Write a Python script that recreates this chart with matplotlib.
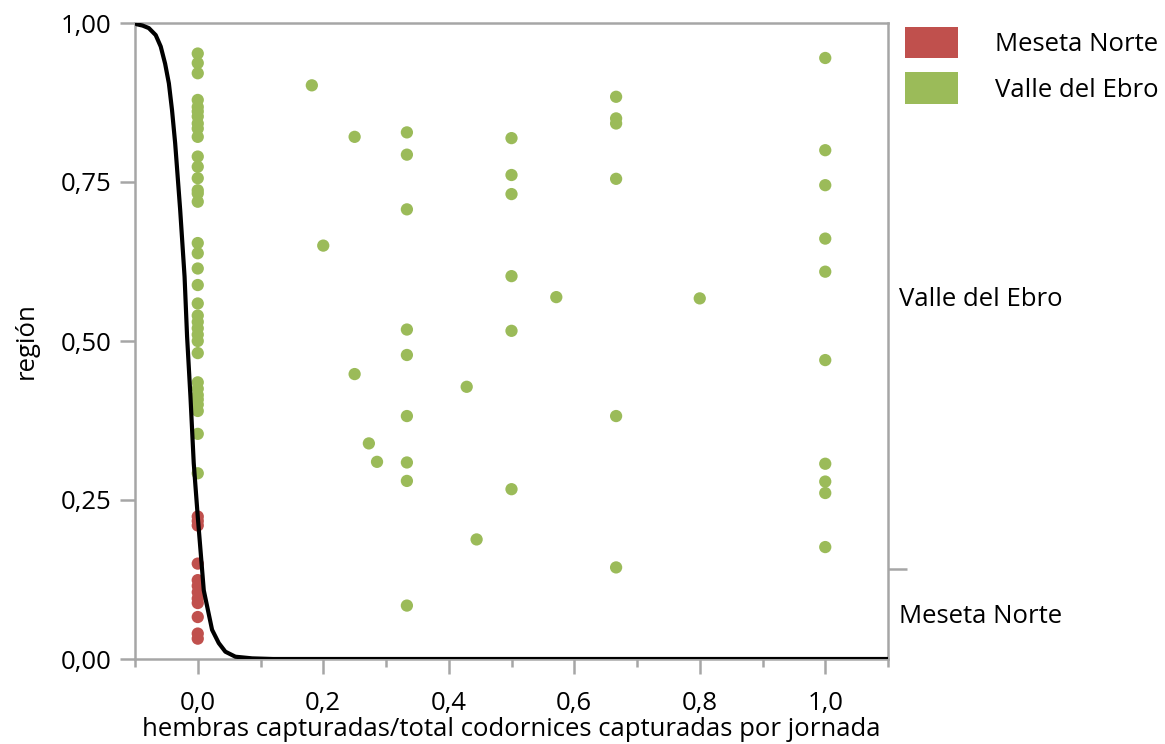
import matplotlib.pyplot as plt
from matplotlib.patches import Patch
from matplotlib.ticker import MultipleLocator, FuncFormatter

plt.rcParams['font.family'] = ['Open Sans', 'DejaVu Sans']

# proporción de hembras por jornada (x) y posición vertical en el gráfico (y)
meseta_x = [0.0] * 12
meseta_y = [0.224, 0.217, 0.210, 0.150, 0.124, 0.115, 0.105, 0.095,
            0.088, 0.066, 0.040, 0.032]

valle_x0_y = [0.952, 0.937, 0.921, 0.879, 0.868, 0.861, 0.853, 0.842,
              0.834, 0.821, 0.790, 0.774, 0.756, 0.737, 0.732, 0.719,
              0.654, 0.638, 0.614, 0.588, 0.559, 0.540, 0.530, 0.520,
              0.510, 0.500, 0.481, 0.435, 0.425, 0.415, 0.408, 0.400,
              0.390, 0.354, 0.292]
valle_x = [0.0] * len(valle_x0_y) + [
    0.1818, 0.25, 0.3333, 0.3333, 0.5, 0.5, 0.5, 0.3333, 0.2, 0.5,
    0.5714, 0.3333, 0.5, 0.3333, 0.25, 0.4286, 0.3333, 0.2727, 0.2857,
    0.3333, 0.3333, 0.5, 0.4444, 0.3333,
    1.0, 0.6667, 0.6667, 0.6667, 1.0, 1.0, 0.6667, 1.0, 1.0, 0.8,
    1.0, 0.6667, 1.0, 1.0, 1.0, 1.0, 0.6667]
valle_y = valle_x0_y + [
    0.902, 0.821, 0.828, 0.793, 0.819, 0.761, 0.731, 0.707, 0.650, 0.602,
    0.569, 0.518, 0.516, 0.478, 0.448, 0.428, 0.382, 0.339, 0.310,
    0.309, 0.280, 0.267, 0.188, 0.084,
    0.945, 0.884, 0.850, 0.842, 0.800, 0.745, 0.755, 0.661, 0.609, 0.567,
    0.470, 0.382, 0.307, 0.279, 0.261, 0.176, 0.144]

# curva logística ajustada
curve_x = [-0.1, -0.097, -0.088, -0.078, -0.067, -0.059, -0.052, -0.046,
           -0.041, -0.036, -0.028, -0.021, -0.017, -0.0116, -0.0064, 0.0,
           0.0096, 0.0228, 0.0335, 0.044, 0.06, 0.0866, 0.12, 1.1]
curve_y = [1.0, 0.998, 0.996, 0.992, 0.981, 0.963, 0.936, 0.905,
           0.863, 0.811, 0.706, 0.601, 0.507, 0.412, 0.308, 0.224,
           0.108, 0.046, 0.025, 0.0115, 0.0036, 0.001, 0.0, 0.0]

regiones = ['Meseta Norte', 'Valle del Ebro']
colores = ['#c0504d', '#9bbb59']
limite_region = 0.141
pos_etiquetas = [0.072, 0.57]

fs = 18.5

fig = plt.figure(figsize=(11.65, 7.44), dpi=100)
ax = fig.add_axes([135 / 1165, 1 - 659 / 744, 753 / 1165, 636 / 744])

ax.scatter(valle_x, valle_y, s=78, color=colores[1], edgecolors='none', zorder=3)
ax.scatter(meseta_x, meseta_y, s=78, color=colores[0], edgecolors='none', zorder=3)
ax.plot(curve_x, curve_y, color='black', lw=3, zorder=4,
        solid_capstyle='round', solid_joinstyle='round')

ax.set_xlim(-0.1, 1.1)
ax.set_ylim(0, 1)
ax.xaxis.set_major_locator(MultipleLocator(0.2))
ax.xaxis.set_minor_locator(MultipleLocator(0.1))
ax.yaxis.set_major_locator(MultipleLocator(0.25))
fmt1 = FuncFormatter(lambda v, p: f'{v:.1f}'.replace('.', ','))
fmt2 = FuncFormatter(lambda v, p: f'{v:.2f}'.replace('.', ','))
ax.xaxis.set_major_formatter(fmt1)
ax.yaxis.set_major_formatter(fmt2)

for s in ax.spines.values():
    s.set_color('#a6a6a6')
    s.set_linewidth(1.8)

ax.tick_params(axis='both', which='major', labelsize=fs, color='#a6a6a6',
               width=1.8, length=11, pad=6)
ax.tick_params(axis='x', which='minor', color='#a6a6a6', width=1.8, length=6)
ax.tick_params(axis='x', which='major', pad=12)

ax.set_xlabel('hembras capturadas/total codornices capturadas por jornada',
              fontsize=fs, labelpad=1)
ax.set_ylabel('región', fontsize=fs, labelpad=16)

# eje derecho con las regiones
ax2 = ax.twinx()
ax2.set_ylim(0, 1)
ax2.set_yticks([limite_region])
ax2.set_yticklabels([])
ax2.set_yticks(pos_etiquetas, minor=True)
ax2.set_yticklabels(regiones, minor=True)
ax2.tick_params(axis='y', which='major', color='#a6a6a6', width=1.8, length=14)
ax2.tick_params(axis='y', which='minor', length=0, pad=8, labelsize=fs)
for s in ax2.spines.values():
    s.set_visible(False)

handles = [Patch(facecolor=c, edgecolor='none') for c in colores]
fig.legend(handles, regiones, loc='upper left',
           bbox_to_anchor=(905 / 1165, 1 - 27 / 744),
           frameon=False, fontsize=fs, borderpad=0, borderaxespad=0,
           handlelength=2.06, handleheight=1.5,
           handletextpad=1.45, labelspacing=0.55)

fig.savefig('out.png', dpi=100)
